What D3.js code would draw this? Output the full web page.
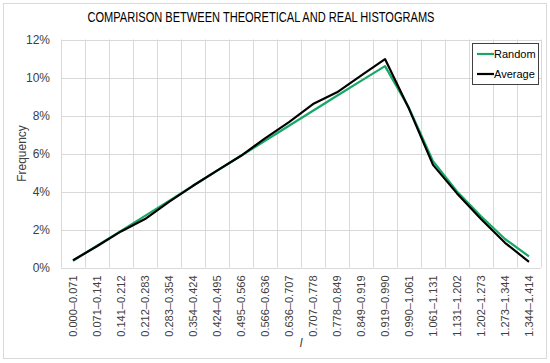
<!DOCTYPE html>
<html>
<head>
<meta charset="utf-8">
<script src="https://cdn.jsdelivr.net/npm/d3@7"></script>
<style>
  body { margin: 0; background: #fff; }
  text { font-family: "Liberation Sans", Arial, sans-serif; fill: #404040; }
</style>
</head>
<body>
<svg id="chart" width="550" height="363"></svg>
<script>
// bins of l
const categories = [
  "0.000–0.071", "0.071–0.141", "0.141–0.212", "0.212–0.283", "0.283–0.354",
  "0.354–0.424", "0.424–0.495", "0.495–0.566", "0.566–0.636", "0.636–0.707",
  "0.707–0.778", "0.778–0.849", "0.849–0.919", "0.919–0.990", "0.990–1.061",
  "1.061–1.131", "1.131–1.202", "1.202–1.273", "1.273–1.344", "1.344–1.414"
];
// frequencies in %
const randomValues = [0.35, 1.15, 1.93, 2.72, 3.51, 4.30, 5.09, 5.88, 6.67, 7.46,
                      8.25, 9.04, 9.82, 10.6, 8.4, 5.6, 4.0, 2.7, 1.5, 0.58];
const averageValues = [0.38, 1.12, 1.9, 2.55, 3.45, 4.3, 5.1, 5.88, 6.8, 7.65,
                       8.6, 9.22, 10.1, 10.97, 8.35, 5.4, 3.9, 2.55, 1.3, 0.3];
const yTicks = [0, 2, 4, 6, 8, 10, 12];

const series = [
  {name: "Random", values: randomValues, color: "#17a865"},
  {name: "Average", values: averageValues, color: "#000000"}
];

const width = 550, height = 363;
const plot = {left: 61, right: 541, top: 39.5, bottom: 267.5};

const svg = d3.select("#chart");

// chart border
svg.append("rect")
    .attr("x", 3.5).attr("y", 3.5)
    .attr("width", 543).attr("height", 355)
    .attr("fill", "#fff")
    .attr("stroke", "#d9d9d9");

const x = d3.scaleBand().domain(categories).range([plot.left, plot.right]);
const y = d3.scaleLinear().domain([0, 12]).range([plot.bottom, plot.top]);

// grid
const grid = svg.append("g").attr("stroke", "#d9d9d9").attr("stroke-width", 1);
grid.selectAll("line.h")
    .data(yTicks)
    .join("line")
    .attr("class", "h")
    .attr("x1", plot.left).attr("x2", plot.right)
    .attr("y1", d => Math.round(y(d)) + 0.5)
    .attr("y2", d => Math.round(y(d)) + 0.5);
grid.selectAll("line.v")
    .data(categories.concat([null]))
    .join("line")
    .attr("class", "v")
    .attr("x1", (d, i) => Math.round(plot.left + i * x.bandwidth()) + 0.5)
    .attr("x2", (d, i) => Math.round(plot.left + i * x.bandwidth()) + 0.5)
    .attr("y1", plot.top).attr("y2", plot.bottom);

// y axis labels
svg.append("g")
  .selectAll("text")
  .data(yTicks)
  .join("text")
    .attr("x", 50)
    .attr("y", d => y(d) + 4)
    .attr("text-anchor", "end")
    .attr("font-size", 12)
    .text(d => d + "%");

// x axis labels
svg.append("g")
  .selectAll("text")
  .data(categories)
  .join("text")
    .attr("transform", d => `translate(${x(d) + x.bandwidth() / 2 + 4},${plot.bottom + 8}) rotate(-90)`)
    .attr("text-anchor", "end")
    .attr("font-size", 11)
    .text(d => d);

// axis titles
svg.append("text")
    .attr("transform", `translate(26,${(plot.top + plot.bottom) / 2}) rotate(-90)`)
    .attr("text-anchor", "middle")
    .attr("font-size", 12)
    .text("Frequency");
svg.append("text")
    .attr("x", (plot.left + plot.right) / 2)
    .attr("y", 347)
    .attr("text-anchor", "middle")
    .attr("font-size", 12)
    .attr("font-style", "italic")
    .text("l");

// title (narrow font in original, squeeze to its width)
svg.append("text")
    .attr("x", 261)
    .attr("y", 22)
    .attr("text-anchor", "middle")
    .attr("font-size", 14)
    .attr("textLength", 347)
    .attr("lengthAdjust", "spacingAndGlyphs")
    .style("fill", "#000")
    .text("COMPARISON BETWEEN THEORETICAL AND REAL HISTOGRAMS");

// lines
const line = d3.line()
    .x((d, i) => x(categories[i]) + x.bandwidth() / 2)
    .y(d => y(d));

svg.append("g")
  .selectAll("path")
  .data(series)
  .join("path")
    .attr("fill", "none")
    .attr("stroke", d => d.color)
    .attr("stroke-width", 2.2)
    .attr("stroke-linejoin", "round")
    .attr("d", d => line(d.values));

// legend
const legend = svg.append("g");
legend.append("rect")
    .attr("x", 472.5).attr("y", 43.5)
    .attr("width", 66).attr("height", 41)
    .attr("fill", "#fff")
    .attr("stroke", "#404040");
const item = legend.selectAll("g")
  .data(series)
  .join("g")
    .attr("transform", (d, i) => `translate(477,${54 + i * 20})`);
item.append("line")
    .attr("x1", 0).attr("x2", 17)
    .attr("stroke", d => d.color)
    .attr("stroke-width", 2.2);
item.append("text")
    .attr("x", 17)
    .attr("y", 4)
    .attr("font-size", 11)
    .style("fill", "#000")
    .text(d => d.name);
</script>
</body>
</html>
